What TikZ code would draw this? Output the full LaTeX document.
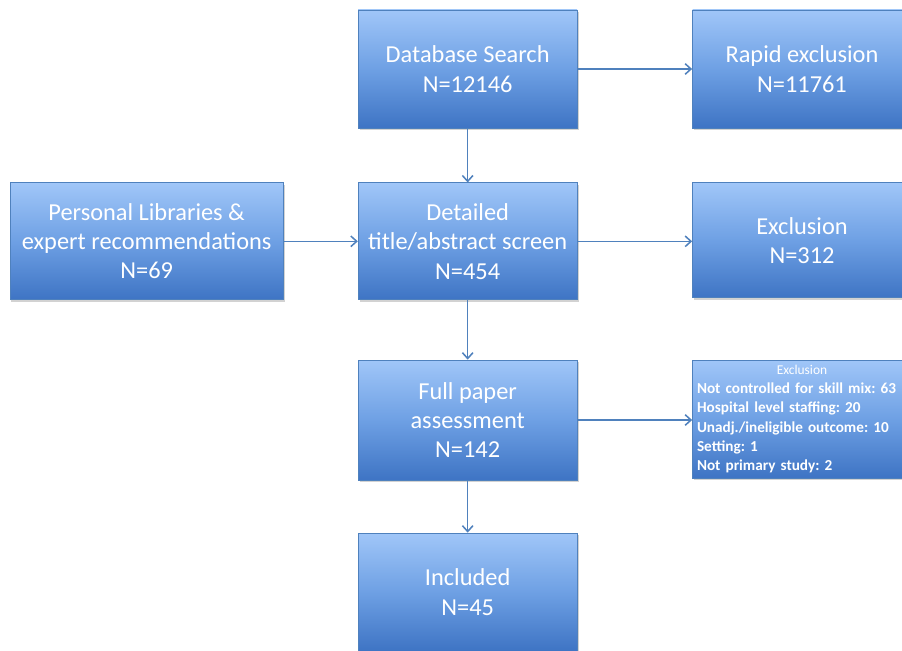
\documentclass[tikz,border=0pt]{standalone}
\usepackage{fontspec}
\setmainfont{Carlito}
\usepackage{tikz}
\usetikzlibrary{arrows.meta,shadows}
\frenchspacing
\definecolor{boxtop}{RGB}{160,198,248}
\definecolor{boxmid}{RGB}{110,160,228}
\definecolor{boxbot}{RGB}{62,116,196}
\definecolor{boxline}{RGB}{79,129,189}
\tikzset{
  flowbox/.style={draw=boxline, line width=0.6pt, top color=boxtop, bottom color=boxbot, middle color=boxmid,
    drop shadow={opacity=0.35, shadow xshift=0.04cm, shadow yshift=-0.07cm},
    text=white, align=center, font=\fontsize{20.8}{25}\selectfont, minimum width=6.57cm, minimum height=3.54cm, inner sep=2pt},
  flowarrow/.style={draw=boxline, line width=1.3pt, -{Straight Barb[length=5pt,width=9pt]}}
}

\begin{document}
\begin{tikzpicture}
  \clip (0,0) rectangle (27.06,19.5);
  \fill[white] (0,0) rectangle (27.06,19.5);

  % Main column
  \node[flowbox] (search) at (14.03,17.43) {Database Search\\N=12146};
  \node[flowbox, minimum height=3.51cm] (detail) at (14.03,12.26) {Detailed\\title/abstract screen\\N=454};
  \node[flowbox, minimum height=3.6cm] (fullpaper) at (14.03,6.9) {Full paper\\assessment\\N=142};
  \node[flowbox] (included) at (14.03,1.74) {Included\\N=45};

  % Left side
  \node[flowbox, minimum width=8.19cm, minimum height=3.51cm] (personal) at (4.40,12.26) {Personal Libraries \&\\expert recommendations\\N=69};

  % Exclusions
  \node[flowbox] (rapid) at (24.06,17.43) {Rapid exclusion\\N=11761};
  \node[flowbox, minimum height=3.45cm] (excl) at (24.06,12.29) {Exclusion\\N=312};
  \node[flowbox, font=\fontsize{13}{16.5}\selectfont\bfseries, align=left, text width=6.3cm, inner xsep=0.13cm, inner ysep=0.03cm] (exclsmall) at (24.06,6.93)
    {\makebox[\linewidth]{\fontsize{11.5}{16.5}\selectfont\mdseries Exclusion}\\Not controlled for skill mix: 63\\Hospital level staffing: 20\\Unadj./ineligible outcome: 10\\Setting: 1\\Not primary study: 2};

  % Arrows
  \draw[flowarrow] (search) -- (rapid);
  \draw[flowarrow] (search) -- (detail);
  \draw[flowarrow] (personal) -- (detail);
  \draw[flowarrow] (detail) -- (excl.west |- detail);
  \draw[flowarrow] (detail) -- (fullpaper);
  \draw[flowarrow] (fullpaper) -- (exclsmall.west |- fullpaper);
  \draw[flowarrow] (fullpaper) -- (included);
\end{tikzpicture}
\end{document}
